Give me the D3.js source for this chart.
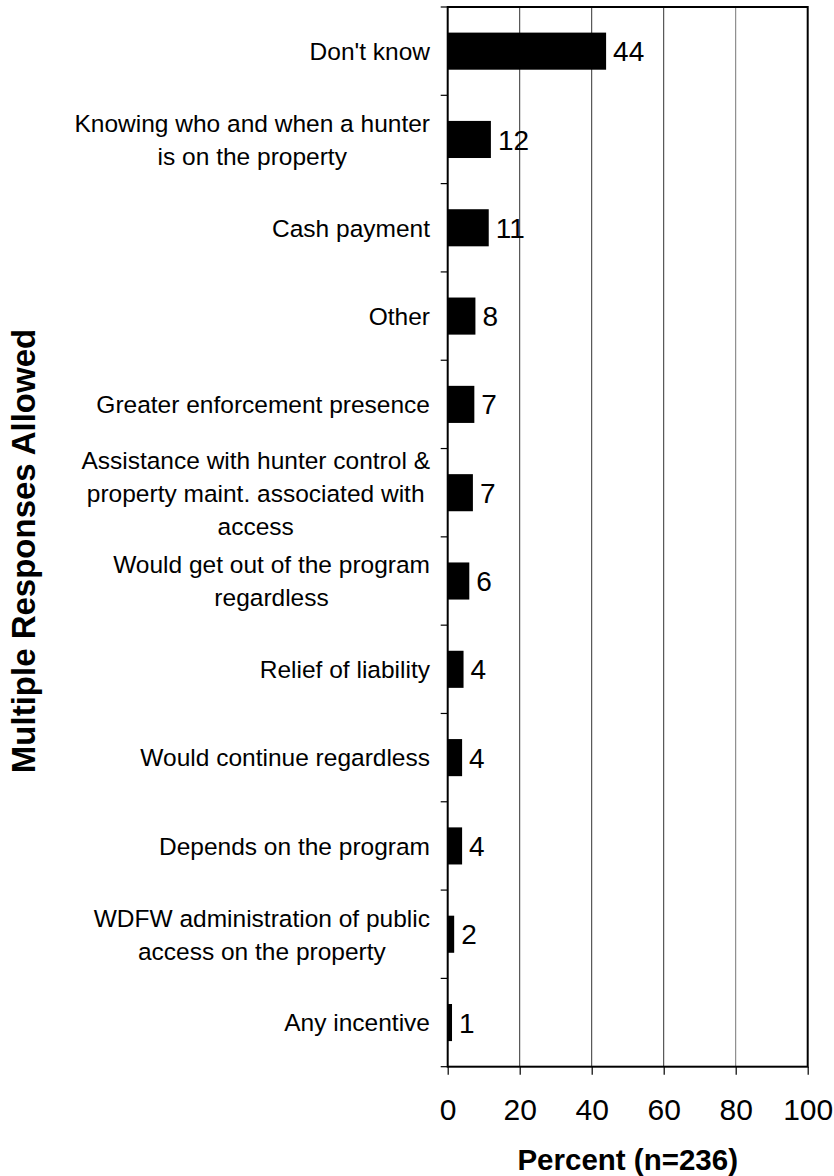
<!DOCTYPE html>
<html>
<head>
<meta charset="utf-8">
<script src="https://cdn.jsdelivr.net/npm/d3@7"></script>
<style>
  html, body { margin: 0; padding: 0; background: #fff; }
  svg { display: block; font-family: "Liberation Sans", Arial, sans-serif; }
</style>
</head>
<body>
<svg id="chart" width="834" height="1176"></svg>
<script>
const categories = [
  "Don't know",
  "Knowing who and when a hunter\nis on the property",
  "Cash payment",
  "Other",
  "Greater enforcement presence",
  "Assistance with hunter control &\nproperty maint. associated with\naccess",
  "Would get out of the program\nregardless",
  "Relief of liability",
  "Would continue regardless",
  "Depends on the program",
  "WDFW administration of public\naccess on the property",
  "Any incentive"
];
const values = [44, 12, 11.4, 7.7, 7.4, 7.0, 6.0, 4.4, 4.0, 4.0, 1.8, 1.2];
const xTicks = [0, 20, 40, 60, 80, 100];
const xTitle = "Percent (n=236)";
const yTitle = "Multiple Responses Allowed";

const svg = d3.select("#chart");
const pLeft = 447.7, pRight = 807.7, pTop = 7, pBottom = 1066.7;

const x = d3.scaleLinear().domain([0, 100]).range([pLeft, pRight]);
const y = d3.scaleBand().domain(d3.range(categories.length))
  .range([pTop, pBottom]).paddingInner(0.58).paddingOuter(0.29);
const step = y.step();

// gridlines
svg.append("g").selectAll("line").data(xTicks.filter(t => t > 0 && t < 100)).join("line")
  .attr("x1", d => x(d)).attr("x2", d => x(d))
  .attr("y1", pTop).attr("y2", pBottom)
  .attr("stroke", (d) => d === 80 ? "#777" : "#333").attr("stroke-width", 1);

// bars
svg.append("g").selectAll("rect").data(values).join("rect")
  .attr("x", x(0)).attr("y", (d, i) => y(i))
  .attr("width", d => x(d) - x(0)).attr("height", y.bandwidth())
  .attr("fill", "#000");

// value labels
svg.append("g").selectAll("text").data(values).join("text")
  .attr("x", d => x(d) + 7).attr("y", (d, i) => y(i) + y.bandwidth() / 2)
  .attr("dy", "0.36em")
  .attr("font-size", 28).attr("fill", "#000")
  .text(d => d3.format(".0f")(d));

// frame
svg.append("rect").attr("x", pLeft).attr("y", pTop)
  .attr("width", pRight - pLeft).attr("height", pBottom - pTop)
  .attr("fill", "none").attr("stroke", "#000").attr("stroke-width", 2);

// y ticks (between categories)
svg.append("g").selectAll("line").data(d3.range(categories.length + 1)).join("line")
  .attr("x1", pLeft - 7).attr("x2", pLeft)
  .attr("y1", d => pTop + d * step).attr("y2", d => pTop + d * step)
  .attr("stroke", "#000").attr("stroke-width", 1.2);

// x axis ticks + labels
const xAxis = d3.axisBottom(x).tickValues(xTicks).tickSize(8).tickPadding(24);
const gx = svg.append("g").attr("transform", `translate(0,${pBottom})`).call(xAxis);
gx.select(".domain").remove();
gx.selectAll(".tick line").attr("stroke", "#000").attr("stroke-width", 1.2);
gx.selectAll(".tick text").attr("font-size", 30).attr("fill", "#000")
  .attr("font-family", "Liberation Sans, Arial, sans-serif");

// category labels
const lineH = 33;
const labelRight = 430;
categories.forEach((c, i) => {
  const lines = c.split("\n");
  const cy = y(i) + y.bandwidth() / 2;
  const g = svg.append("g");
  const texts = lines.map((ln, j) => g.append("text")
    .attr("y", cy + (j - (lines.length - 1) / 2) * lineH)
    .attr("dy", "0.36em")
    .attr("font-size", 24.5).attr("fill", "#000")
    .attr("text-anchor", "middle")
    .text(ln));
  const maxW = d3.max(texts, t => t.node().getComputedTextLength());
  texts.forEach(t => t.attr("x", labelRight - maxW / 2));
});

// axis titles
svg.append("text").attr("x", (pLeft + pRight) / 2).attr("y", 1170)
  .attr("text-anchor", "middle").attr("font-size", 29.5).attr("font-weight", "bold")
  .text(xTitle);
svg.append("text")
  .attr("transform", `translate(35,551) rotate(-90)`)
  .attr("text-anchor", "middle").attr("font-size", 33).attr("font-weight", "bold")
  .text(yTitle);
</script>
</body>
</html>
